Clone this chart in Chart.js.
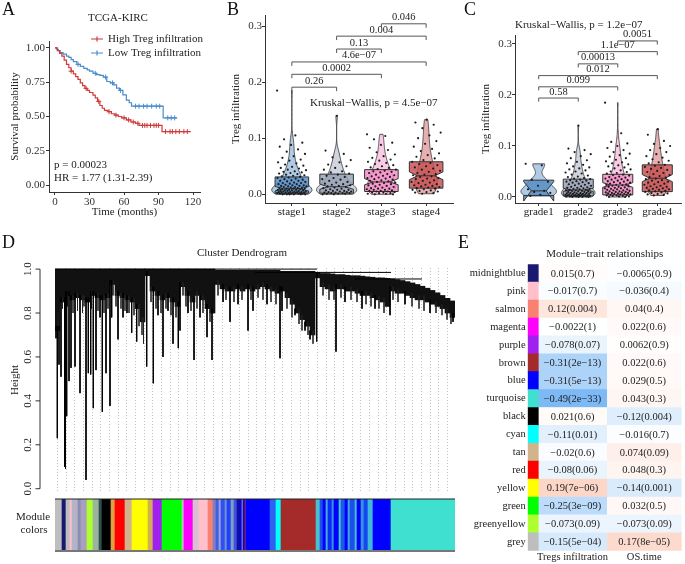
<!DOCTYPE html>
<html>
<head>
<meta charset="utf-8">
<title>Treg infiltration figure</title>
<script src="https://cdn.jsdelivr.net/npm/chart.js@4.4.1/dist/chart.umd.min.js"></script>
<style>
  html, body { margin: 0; padding: 0; background: #fff; }
  body { position: relative; width: 685px; height: 564px; overflow: hidden; font-family: "Liberation Serif", serif; }
  canvas { position: absolute; }
  .tag { position: absolute; font-size: 18px; line-height: 18px; color: #111; }
</style>
</head>
<body>
<canvas id="km" width="230" height="222" style="left:0;top:0"></canvas>
<canvas id="stage" width="232" height="222" style="left:225px;top:0"></canvas>
<canvas id="grade" width="230" height="222" style="left:455px;top:0"></canvas>
<canvas id="dendro" width="460" height="268" style="left:0;top:230px"></canvas>
<canvas id="modbar" width="460" height="65" style="left:0;top:495px"></canvas>
<canvas id="heat" width="230" height="334" style="left:455px;top:230px"></canvas>
<div class="tag" style="left:2px;top:0">A</div>
<div class="tag" style="left:227px;top:0">B</div>
<div class="tag" style="left:464px;top:0">C</div>
<div class="tag" style="left:2px;top:233px">D</div>
<div class="tag" style="left:458px;top:233px">E</div>
<script>
// ---- A: survival curves ----
const highT = [0, 2, 4, 6, 8, 10, 12, 14, 16, 18, 20, 22, 24, 26, 28, 30, 33, 35, 37, 39, 41, 43, 46, 49, 52, 55, 58, 62, 66, 70, 73, 93, 118];
const highS = [1, 0.98, 0.96, 0.94, 0.91, 0.88, 0.855, 0.83, 0.81, 0.79, 0.77, 0.745, 0.725, 0.705, 0.69, 0.675, 0.655, 0.635, 0.61, 0.58, 0.56, 0.545, 0.535, 0.52, 0.51, 0.5, 0.49, 0.475, 0.46, 0.45, 0.435, 0.39, 0.39];
const lowT = [0, 1.5, 3, 4.5, 7, 10, 12, 14, 16, 19, 22, 25, 28, 30, 33, 36, 39, 42, 45, 48, 51, 53.5, 56, 59, 62, 64.5, 66.5, 94, 106];
const lowS = [1, 0.99, 0.98, 0.965, 0.955, 0.94, 0.93, 0.915, 0.9, 0.88, 0.865, 0.85, 0.84, 0.83, 0.815, 0.805, 0.8, 0.787, 0.755, 0.745, 0.73, 0.706, 0.69, 0.657, 0.62, 0.6, 0.575, 0.49, 0.49];
const highCens = [14, 27, 38, 47, 53, 60, 64, 68, 72, 76, 78, 80, 83, 86, 88, 90, 96, 100, 102, 105, 108, 112, 115];
const lowCens = [20, 35, 44, 50, 57, 70, 73, 77, 80, 84, 88, 91, 98, 101, 104];
const kmXTicks = [0, 30, 60, 90, 120];
const kmYTicks = [0, 0.25, 0.5, 0.75, 1];

// ---- B / C: Treg infiltration by stage and grade ----
const stageCats = ['stage1', 'stage2', 'stage3', 'stage4'];
const stagePts = [
  [0.185, 0.105, 0.098, 0.092, 0.088, 0.085, 0.080, 0.076, 0.072, 0.068, 0.065, 0.062, 0.060, 0.057, 0.055, 0.053, 0.051, 0.049, 0.047, 0.046, 0.044, 0.043, 0.041, 0.040, 0.039, 0.038, 0.037, 0.036, 0.035, 0.034, 0.033, 0.032, 0.031, 0.030, 0.029, 0.028, 0.027, 0.026, 0.025, 0.024, 0.024, 0.023, 0.022, 0.021, 0.020, 0.020, 0.019, 0.018, 0.018, 0.017, 0.016, 0.016, 0.015, 0.015, 0.014, 0.014, 0.013, 0.013, 0.012, 0.012, 0.011, 0.011, 0.010, 0.010, 0.010, 0.009, 0.009, 0.008, 0.008, 0.008, 0.007, 0.007, 0.007, 0.006, 0.006, 0.006, 0.005, 0.005, 0.005, 0.004, 0.004, 0.004, 0.004, 0.003, 0.003, 0.003, 0.003, 0.002, 0.002, 0.002, 0.002, 0.001, 0.001, 0.001, 0.001, 0.001, 0.000, 0.000, 0.000, 0.000, 0.000, 0.000],
  [0.140, 0.078, 0.072, 0.066, 0.061, 0.057, 0.053, 0.050, 0.047, 0.044, 0.041, 0.039, 0.037, 0.035, 0.033, 0.031, 0.029, 0.027, 0.026, 0.024, 0.022, 0.021, 0.019, 0.018, 0.017, 0.016, 0.015, 0.014, 0.013, 0.012, 0.011, 0.010, 0.009, 0.008, 0.008, 0.007, 0.006, 0.006, 0.005, 0.005, 0.004, 0.004, 0.003, 0.003, 0.002, 0.002, 0.002, 0.001, 0.001, 0.001, 0.000, 0.000],
  [0.107, 0.104, 0.098, 0.092, 0.088, 0.083, 0.079, 0.075, 0.071, 0.068, 0.065, 0.062, 0.060, 0.058, 0.056, 0.054, 0.052, 0.050, 0.048, 0.047, 0.045, 0.044, 0.042, 0.041, 0.040, 0.039, 0.038, 0.036, 0.035, 0.034, 0.033, 0.032, 0.031, 0.030, 0.029, 0.028, 0.027, 0.026, 0.025, 0.024, 0.023, 0.022, 0.021, 0.020, 0.019, 0.018, 0.017, 0.016, 0.015, 0.014, 0.013, 0.012, 0.011, 0.010, 0.010, 0.009, 0.008, 0.008, 0.007, 0.006, 0.006, 0.005, 0.005, 0.004, 0.003, 0.003, 0.002, 0.002, 0.001, 0.001, 0.000, 0.000],
  [0.133, 0.128, 0.124, 0.118, 0.110, 0.105, 0.100, 0.095, 0.090, 0.085, 0.081, 0.077, 0.073, 0.070, 0.067, 0.064, 0.061, 0.058, 0.056, 0.054, 0.052, 0.050, 0.048, 0.046, 0.044, 0.042, 0.040, 0.038, 0.036, 0.035, 0.034, 0.032, 0.031, 0.029, 0.028, 0.027, 0.025, 0.024, 0.022, 0.021, 0.020, 0.018, 0.017, 0.016, 0.015, 0.014, 0.013, 0.012, 0.011, 0.010, 0.009, 0.008, 0.007, 0.006, 0.005, 0.004, 0.003, 0.002, 0.001]
];
const stageQ1 = [0.002, 0.002, 0.005, 0.011];
const stageMed = [0.010, 0.0135, 0.022, 0.033];
const stageQ3 = [0.031, 0.036, 0.044, 0.058];
const stageNotchLo = [0.006, 0.009, 0.017, 0.026];
const stageNotchHi = [0.014, 0.018, 0.028, 0.040];
const stagePairs = [[1, 2], [1, 3], [1, 4], [2, 3], [2, 4], [3, 4]];
const stagePairY = [0.191, 0.214, 0.236, 0.259, 0.282, 0.304];
const stagePairP = ['0.26', '0.0002', '4.6e-07', '0.13', '0.004', '0.046'];

const gradeCats = ['grade1', 'grade2', 'grade3', 'grade4'];
const gradePts = [
  [0.065, 0.062, 0.034, 0.030, 0.022, 0.015, 0.012, 0.010, 0.008, 0.004, 0.002],
  [0.140, 0.095, 0.092, 0.088, 0.084, 0.080, 0.076, 0.072, 0.069, 0.066, 0.063, 0.060, 0.058, 0.056, 0.054, 0.052, 0.050, 0.048, 0.046, 0.044, 0.042, 0.040, 0.039, 0.037, 0.036, 0.035, 0.034, 0.033, 0.032, 0.031, 0.030, 0.029, 0.028, 0.027, 0.026, 0.025, 0.024, 0.023, 0.022, 0.021, 0.020, 0.019, 0.018, 0.018, 0.017, 0.016, 0.016, 0.015, 0.014, 0.014, 0.013, 0.013, 0.012, 0.012, 0.011, 0.011, 0.010, 0.010, 0.009, 0.009, 0.008, 0.008, 0.008, 0.007, 0.007, 0.006, 0.006, 0.006, 0.005, 0.005, 0.005, 0.004, 0.004, 0.004, 0.003, 0.003, 0.003, 0.003, 0.002, 0.002, 0.002, 0.002, 0.001, 0.001, 0.001, 0.001, 0.000, 0.000, 0.000, 0.000],
  [0.185, 0.125, 0.108, 0.105, 0.100, 0.096, 0.092, 0.088, 0.085, 0.082, 0.079, 0.076, 0.073, 0.070, 0.068, 0.066, 0.064, 0.062, 0.060, 0.058, 0.056, 0.054, 0.052, 0.050, 0.049, 0.047, 0.046, 0.044, 0.043, 0.042, 0.040, 0.039, 0.038, 0.037, 0.036, 0.035, 0.034, 0.033, 0.032, 0.031, 0.030, 0.029, 0.028, 0.027, 0.026, 0.025, 0.024, 0.024, 0.023, 0.022, 0.021, 0.020, 0.020, 0.019, 0.018, 0.017, 0.017, 0.016, 0.015, 0.015, 0.014, 0.013, 0.013, 0.012, 0.011, 0.011, 0.010, 0.010, 0.009, 0.009, 0.008, 0.008, 0.007, 0.007, 0.006, 0.006, 0.005, 0.005, 0.004, 0.004, 0.003, 0.003, 0.002, 0.002, 0.001, 0.001, 0.000, 0.000],
  [0.133, 0.122, 0.110, 0.104, 0.100, 0.096, 0.092, 0.088, 0.084, 0.080, 0.077, 0.074, 0.071, 0.068, 0.066, 0.063, 0.061, 0.059, 0.057, 0.055, 0.053, 0.051, 0.049, 0.047, 0.045, 0.043, 0.041, 0.039, 0.038, 0.036, 0.035, 0.033, 0.032, 0.030, 0.029, 0.028, 0.026, 0.025, 0.024, 0.022, 0.021, 0.020, 0.019, 0.018, 0.017, 0.016, 0.015, 0.014, 0.013, 0.012, 0.011, 0.010, 0.009, 0.008, 0.007, 0.006, 0.005, 0.004, 0.003]
];
const gradeQ1 = [0.003, 0.002, 0.004, 0.0105];
const gradeMed = [0.012, 0.0137, 0.0235, 0.0367];
const gradeQ3 = [0.033, 0.035, 0.0445, 0.063];
const gradeNotchLo = [-0.008, 0.011, 0.019, 0.030];
const gradeNotchHi = [0.030, 0.017, 0.028, 0.044];
const gradePairs = [[1, 2], [1, 3], [1, 4], [2, 3], [2, 4], [3, 4]];
const gradePairY = [0.194, 0.216, 0.238, 0.261, 0.285, 0.306];
const gradePairP = ['0.58', '0.099', '0.012', '0.00013', '1.1e-07', '0.0051'];
const boxTicks = [0, 0.1, 0.2, 0.3];

// ---- D: dendrogram (leaf positions 0..400) ----
const denseLow = [0.72, 0.85, 0.88, 0.86, 0.87, 0.86, 0.85, 0.88, 0.87, 0.86, 0.87, 0.93, 0.88, 0.87, 0.86, 0.85, 0.82, 0.76, 0.97, 0.90,
  0.88, 0.86, 0.87, 0.85, 0.83, 0.92, 0.88, 0.85, 0.88, 0.86, 0.82, 0.80, 0.93, 0.91, 0.90, 0.90, 0.91, 0.90, 0.91, 0.90,
  0.91, 0.92, 0.91, 0.90, 0.89, 0.90, 0.87, 0.84, 0.80, 0.77, 0.74, 0.70, 0.96, 0.92, 0.91, 0.90, 0.91, 0.91, 0.90, 0.90,
  0.89, 0.88, 0.88, 0.87, 0.86, 0.85, 0.83, 0.90, 0.89, 0.89, 0.88, 0.87, 0.86, 0.86, 0.85, 0.84, 0.83, 0.82, 0.80, 0.78];
const denseTop = [1, 1, 1, 1, 1, 1, 1, 1, 1, 1, 1, 1, 1, 1, 1, 1, 1, 1, 1, 1,
  1, 1, 1, 1, 1, 1, 1, 1, 1, 1, 1, 1, 0.995, 0.995, 0.995, 0.995, 0.995, 0.995, 0.995, 0.995,
  0.995, 0.995, 0.995, 0.995, 0.995, 0.99, 0.99, 0.99, 0.99, 0.99, 0.99, 0.99, 0.985, 0.98, 0.98, 0.978, 0.975, 0.975, 0.972, 0.97,
  0.97, 0.968, 0.965, 0.963, 0.96, 0.96, 0.958, 0.955, 0.952, 0.948, 0.943, 0.937, 0.93, 0.922, 0.913, 0.903, 0.892, 0.88, 0.867, 0.855];
const spikeU = [1, 2.3, 4, 6, 9.5, 10.5, 11.7, 14, 16, 20, 25, 31, 33.3, 35.7, 38.3, 41, 45, 47.3, 51, 55, 56.7, 63, 68, 72, 76.7, 81.7, 91.7, 98.3,
  103, 108, 113, 118, 123.3, 125, 133, 139, 145, 152, 157, 168, 175, 183, 193, 198, 212, 225, 227, 240, 250, 255, 261.7, 281, 290, 307, 320, 335, 350, 375, 398];
const spikeLow = [0.685, 0.23, 0.565, 0.51, 0.10, 0.09, 0.33, 0.49, 0.55, 0.556, 0.435, 0.04, 0.526, 0.52, 0.367, 0.54, 0.78, 0.35, 0.526, 0.377, 0.78, 0.68, 0.78, 0.80, 0.71, 0.67, 0.556, 0.48,
  0.79, 0.60, 0.81, 0.66, 0.64, 0.72, 0.80, 0.586, 0.78, 0.69, 0.586, 0.85, 0.76, 0.84, 0.72, 0.81, 0.84, 0.594, 0.81, 0.79, 0.72, 0.68, 0.67, 0.624, 0.85, 0.82, 0.82, 0.79, 0.84, 0.80, 0.76];
const fringeU = [3, 7.5, 12.5, 18, 22.5, 27.5, 29, 36.5, 43, 49, 53, 58, 61, 66, 70, 74, 79, 84, 87, 88.5, 96, 101, 106, 111, 116, 121, 128, 131, 136, 142, 148, 155,
  163, 171, 179, 187, 196, 203, 208, 216, 221, 232, 237, 244, 247, 253, 258, 268, 274, 279, 286, 296, 302, 311, 316, 324, 329, 338, 343, 357, 364, 369, 381, 387, 392, 396];
const fringeLow = [0.80, 0.82, 0.83, 0.80, 0.81, 0.80, 0.83, 0.82, 0.81, 0.80, 0.82, 0.88, 0.83, 0.82, 0.81, 0.80, 0.79, 0.74, 0.70, 0.66, 0.85, 0.82, 0.80, 0.82, 0.79, 0.78, 0.88, 0.83, 0.81, 0.82, 0.80, 0.76,
  0.88, 0.86, 0.85, 0.86, 0.86, 0.87, 0.86, 0.85, 0.84, 0.82, 0.78, 0.75, 0.72, 0.70, 0.66, 0.88, 0.86, 0.86, 0.87, 0.86, 0.85, 0.84, 0.83, 0.82, 0.80, 0.86, 0.85, 0.83, 0.82, 0.81, 0.80, 0.79, 0.77, 0.75];
const mergeLines = [[0, 262, 1.0], [200, 336, 0.985], [300, 367, 0.955]];
const dendroYTicks = [0, 0.2, 0.4, 0.6, 0.8, 1.0];

const modEdges = [0, 7, 11, 15, 17, 23, 26, 32, 38, 44, 47, 56, 60, 70, 77, 93, 98, 107, 127, 129, 138, 144, 153, 158, 161, 164, 166, 170, 172, 176,
  179, 182, 185, 187, 188, 190, 191, 215, 221, 226, 261, 265, 268, 271, 273, 277, 279, 284, 286, 290, 293, 295, 300, 302, 306, 309, 313, 318, 336, 400];
const modColors = ['#BEBEBE', '#191970', '#BEBEBE', '#FFC0CB', '#B4B4C8', '#8C8CB4', '#A9A0C0', '#ADFF2F', '#9CB49C', '#2F4F4F',
  '#000000', '#E0A040', '#FF0000', '#D2B48C', '#FFFF00', '#D2B050', '#A020F0', '#00FF00', '#BEBEBE', '#FF00FF',
  '#D8C0D0', '#FFC0CB', '#FA8072', '#8080C0', '#4060E0', '#A0A0E0', '#3050F0', '#7090D0', '#2040FF', '#80A0C0',
  '#4050E0', '#1010A0', '#0000FF', '#D2A020', '#0000FF', '#A52A2A', '#0000FF', '#3060F0', '#00FFFF', '#A52A2A',
  '#48C0D0', '#1E50E8', '#0000FF', '#40B0D8', '#0A2AF5', '#3A8FE0', '#0000FF', '#45C8D5', '#1E5AE8', '#0000FF',
  '#3FA8DC', '#1C4FEA', '#44C0D4', '#0000FF', '#3A90E0', '#1448F0', '#40B8D8', '#0000FF', '#40E0D0'];

// ---- E: module-trait relationships ----
const modules = ['midnightblue', 'pink', 'salmon', 'magenta', 'purple', 'brown', 'blue', 'turquoise', 'black', 'cyan', 'tan', 'red', 'yellow', 'green', 'greenyellow', 'grey'];
const moduleRgb = ['#191970', '#FFC0CB', '#FA8072', '#FF00FF', '#A020F0', '#A52A2A', '#0000FF', '#40E0D0', '#000000', '#00FFFF', '#D2B48C', '#FF0000', '#FFFF00', '#00FF00', '#ADFF2F', '#BEBEBE'];
const traits = ['Tregs infiltration', 'OS.time'];
const tregCor = [0.015, -0.017, 0.12, -0.0022, -0.078, -0.31, -0.31, -0.49, 0.021, -0.11, -0.02, -0.08, 0.19, -0.25, -0.073, -0.15];
const tregP = ['0.7', '0.7', '0.004', '1', '0.07', '2e-13', '5e-13', '2e-33', '0.6', '0.01', '0.6', '0.06', '7e-06', '3e-09', '0.09', '5e-04'];
const osCor = [-0.0065, -0.036, 0.04, 0.022, 0.0062, 0.022, 0.029, 0.043, -0.12, -0.016, 0.074, 0.048, -0.14, 0.032, -0.073, 0.17];
const osP = ['0.9', '0.4', '0.4', '0.6', '0.9', '0.6', '0.5', '0.3', '0.004', '0.7', '0.09', '0.3', '0.001', '0.5', '0.09', '8e-05'];

Chart.defaults.font.family = "'Liberation Serif', 'Times New Roman', serif";
Chart.defaults.font.size = 11;
Chart.defaults.color = '#222';
Chart.defaults.animation = false;
Chart.defaults.events = [];
Chart.defaults.plugins.legend.display = false;
Chart.defaults.plugins.tooltip.enabled = false;

const FONT = "'Liberation Serif', 'Times New Roman', serif";
const RED = '#CF3A3A', BLUE = '#4B8CCB';
const minus = s => String(s).replace(/-/g, '\u2212');
const stepAt = (T, S, t) => { let s = S[0]; T.forEach((tt, i) => { if (tt <= t) s = S[i]; }); return s; };

// KM annotations and legend
const kmDeco = {
  id: 'kmDeco',
  afterDraw(c) {
    const ctx = c.ctx;
    ctx.save();
    ctx.font = '11px ' + FONT;
    ctx.fillStyle = '#222';
    ctx.textBaseline = 'middle';
    ctx.textAlign = 'center';
    ctx.fillText('TCGA-KIRC', 118, 18);
    ctx.textAlign = 'left';
    ctx.fillText('p = 0.00023', 54, 165);
    ctx.fillText('HR = 1.77 (1.31-2.39)', 54, 178);
    [['High Treg infiltration', RED, 39], ['Low Treg infiltration', BLUE, 53]].forEach(([t, col, y]) => {
      ctx.strokeStyle = col; ctx.lineWidth = 1.2;
      ctx.beginPath();
      ctx.moveTo(91, y); ctx.lineTo(103, y);
      ctx.moveTo(97, y - 2.5); ctx.lineTo(97, y + 2.5);
      ctx.stroke();
      ctx.fillStyle = '#222';
      ctx.fillText(t, 108, y);
    });
    ctx.restore();
  }
};

new Chart(document.getElementById('km'), {
  type: 'line',
  data: {
    datasets: [
      { data: highT.map((t, i) => ({ x: t, y: highS[i] })), borderColor: RED, borderWidth: 1.2, stepped: true, pointRadius: 0 },
      { data: lowT.map((t, i) => ({ x: t, y: lowS[i] })), borderColor: BLUE, borderWidth: 1.2, stepped: true, pointRadius: 0 },
      { type: 'scatter', data: highCens.map(t => ({ x: t, y: stepAt(highT, highS, t) })), pointStyle: 'cross', pointRadius: 2.5, borderColor: RED, borderWidth: 1 },
      { type: 'scatter', data: lowCens.map(t => ({ x: t, y: stepAt(lowT, lowS, t) })), pointStyle: 'cross', pointRadius: 2.5, borderColor: BLUE, borderWidth: 1 }
    ]
  },
  options: {
    responsive: false,
    layout: { padding: { top: 41, right: 30, left: 0, bottom: 0 } },
    scales: {
      x: {
        type: 'linear', min: -5.2, max: 126,
        afterBuildTicks: s => { s.ticks = kmXTicks.map(v => ({ value: v })); },
        afterFit: s => { s.height = 30; },
        grid: { drawOnChartArea: false, tickLength: 3, color: '#333' },
        border: { color: '#333' },
        ticks: { padding: 1, color: '#333' },
        title: { display: true, text: 'Time (months)', padding: { top: 0, bottom: 3.4 } }
      },
      y: {
        min: -0.05, max: 1.05,
        afterBuildTicks: s => { s.ticks = kmYTicks.map(v => ({ value: v })); },
        afterFit: s => { s.width = 49; },
        grid: { drawOnChartArea: false, tickLength: 3, color: '#333' },
        border: { color: '#333' },
        ticks: { padding: 1, color: '#333', callback: v => v.toFixed(2) },
        title: { display: true, text: 'Survival probability', padding: { top: 8.5, bottom: 0 } }
      }
    }
  },
  plugins: [kmDeco]
});

// violin + notched box + comparison brackets
function kde(vals) {
  const s = [...vals].sort((a, b) => a - b), n = s.length;
  const mean = s.reduce((a, b) => a + b, 0) / n;
  const sd = Math.sqrt(s.reduce((a, b) => a + (b - mean) ** 2, 0) / (n - 1));
  const q = p => { const h = (n - 1) * p, lo = Math.floor(h); return s[lo] + (s[Math.min(lo + 1, n - 1)] - s[lo]) * (h - lo); };
  const iqr = q(0.75) - q(0.25);
  const bw = 0.9 * Math.min(sd, iqr > 0 ? iqr / 1.34 : sd) * Math.pow(n, -0.2);
  const out = [];
  for (let k = 0; k <= 80; k++) {
    const v = s[0] + (s[n - 1] - s[0]) * k / 80;
    let d = 0;
    s.forEach(x => { const z = (v - x) / bw; d += Math.exp(-0.5 * z * z); });
    out.push([v, d / (n * bw * Math.sqrt(2 * Math.PI))]);
  }
  return out;
}

const vbox = {
  id: 'vbox',
  beforeDatasetsDraw(c, args, o) {
    const { ctx, scales: { x, y } } = c;
    const X = v => x.getPixelForValue(v), Y = v => y.getPixelForValue(v);
    const dens = o.pts.map(kde);
    const dmax = Math.max(...dens.map(d => Math.max(...d.map(e => e[1]))));
    ctx.save();
    ctx.strokeStyle = '#333';
    ctx.lineWidth = 0.8;
    dens.forEach((d, i) => {
      const cx = i + 1;
      ctx.beginPath();
      d.forEach(([v, f], k) => { const px = X(cx - 0.45 * f / dmax), py = Y(v); k ? ctx.lineTo(px, py) : ctx.moveTo(px, py); });
      for (let k = d.length - 1; k >= 0; k--) ctx.lineTo(X(cx + 0.45 * d[k][1] / dmax), Y(d[k][0]));
      ctx.closePath();
      ctx.fillStyle = 'rgba(' + o.fill[i] + ',0.45)';
      ctx.fill();
      ctx.stroke();
    });
    o.q1.forEach((q1, i) => {
      const cx = i + 1, w = o.boxW / 2, nw = w / 2;
      ctx.beginPath();
      ctx.moveTo(X(cx - w), Y(o.q3[i]));
      ctx.lineTo(X(cx - w), Y(o.nhi[i]));
      ctx.lineTo(X(cx - nw), Y(o.med[i]));
      ctx.lineTo(X(cx - w), Y(o.nlo[i]));
      ctx.lineTo(X(cx - w), Y(q1));
      ctx.lineTo(X(cx + w), Y(q1));
      ctx.lineTo(X(cx + w), Y(o.nlo[i]));
      ctx.lineTo(X(cx + nw), Y(o.med[i]));
      ctx.lineTo(X(cx + w), Y(o.nhi[i]));
      ctx.lineTo(X(cx + w), Y(o.q3[i]));
      ctx.closePath();
      ctx.fillStyle = 'rgba(' + o.fill[i] + ',0.82)';
      ctx.fill();
      ctx.lineWidth = 1;
      ctx.stroke();
      ctx.beginPath();
      ctx.moveTo(X(cx - nw), Y(o.med[i]));
      ctx.lineTo(X(cx + nw), Y(o.med[i]));
      ctx.stroke();
    });
    ctx.restore();
  },
  afterDatasetsDraw(c, args, o) {
    const { ctx, scales: { x, y }, chartArea } = c;
    const X = v => x.getPixelForValue(v), Y = v => y.getPixelForValue(v);
    ctx.save();
    ctx.strokeStyle = '#555';
    ctx.lineWidth = 1;
    ctx.fillStyle = '#222';
    ctx.font = '10.5px ' + FONT;
    ctx.textAlign = 'center';
    ctx.textBaseline = 'bottom';
    o.pairs.forEach(([a, b], k) => {
      const py = Y(o.pairY[k]), pt = Y(o.pairY[k] - 0.007);
      ctx.beginPath();
      ctx.moveTo(X(a), pt); ctx.lineTo(X(a), py); ctx.lineTo(X(b), py); ctx.lineTo(X(b), pt);
      ctx.stroke();
      ctx.fillText(minus(o.pairP[k]), (X(a) + X(b)) / 2, py - 1);
    });
    ctx.font = '11px ' + FONT;
    ctx.textBaseline = 'middle';
    if (o.kwTop) {
      ctx.textAlign = 'left';
      ctx.fillText(minus(o.kw), chartArea.left, 25);
    } else {
      ctx.fillText(minus(o.kw), X(o.kwX), Y(o.kwY));
    }
    ctx.restore();
  }
};

const groupFill = ['84,140,196', '150,160,181', '245,140,198', '200,78,80'];
const jit = (k, g) => ((((k + g * 17) * 0.6180339887) % 1) - 0.5) * 0.66;

function boxChart(id, cats, pts, st, yr, yw, yPad, topPad, rightPad) {
  return new Chart(document.getElementById(id), {
    type: 'scatter',
    data: {
      datasets: pts.map((g, gi) => ({
        data: g.map((v, k) => ({ x: gi + 1 + jit(k, gi), y: v })),
        pointRadius: 1.1, pointBackgroundColor: '#1c1c1c', pointBorderWidth: 0
      }))
    },
    options: {
      responsive: false,
      layout: { padding: { top: topPad, right: rightPad, left: 0, bottom: 0 } },
      scales: {
        x: {
          type: 'linear', min: 0.4, max: 4.6,
          afterBuildTicks: s => { s.ticks = cats.map((_, i) => ({ value: i + 1 })); },
          afterFit: s => { s.height = 19; },
          grid: { drawOnChartArea: false, tickLength: 3, color: '#333' },
          border: { color: '#333' },
          ticks: { padding: 0, color: '#222', callback: v => cats[v - 1] }
        },
        y: {
          min: yr[0], max: yr[1],
          afterBuildTicks: s => { s.ticks = boxTicks.map(v => ({ value: v })); },
          afterFit: s => { s.width = yw; },
          grid: { drawOnChartArea: false, tickLength: 3, color: '#333' },
          border: { color: '#333' },
          ticks: { padding: 0, color: '#333', callback: v => v.toFixed(1) },
          title: { display: true, text: 'Treg infiltration', padding: { top: yPad, bottom: 0 } }
        }
      },
      plugins: { vbox: st }
    },
    plugins: [vbox]
  });
}

boxChart('stage', stageCats, stagePts, {
  pts: stagePts, q1: stageQ1, med: stageMed, q3: stageQ3, nlo: stageNotchLo, nhi: stageNotchHi, boxW: 0.75, fill: groupFill,
  pairs: stagePairs, pairY: stagePairY, pairP: stagePairP, kw: 'Kruskal-Wallis, p = 4.5e-07', kwX: 2.83, kwY: 0.163, kwTop: false
}, [-0.0155, 0.3197], 40, 4.4, 15, 2);

boxChart('grade', gradeCats, gradePts, {
  pts: gradePts, q1: gradeQ1, med: gradeMed, q3: gradeQ3, nlo: gradeNotchLo, nhi: gradeNotchHi, boxW: 0.76, fill: groupFill,
  pairs: gradePairs, pairY: gradePairY, pairP: gradePairP, kw: 'Kruskal-Wallis, p = 1.2e-07', kwTop: true
}, [-0.0118, 0.3176], 60, 25, 35, 0);

// ---- D: dendrogram ----
const dendroDeco = {
  id: 'dendroDeco',
  afterDraw(c) {
    const { ctx, scales: { y } } = c;
    ctx.save();
    ctx.strokeStyle = '#333';
    ctx.lineWidth = 1;
    ctx.beginPath();
    ctx.moveTo(40, y.getPixelForValue(0)); ctx.lineTo(40, y.getPixelForValue(1));
    dendroYTicks.forEach(v => { const py = y.getPixelForValue(v); ctx.moveTo(40, py); ctx.lineTo(35.5, py); });
    ctx.stroke();
    ctx.fillStyle = '#222';
    ctx.font = '11px ' + FONT;
    ctx.textAlign = 'center';
    ctx.textBaseline = 'middle';
    dendroYTicks.forEach(v => {
      ctx.save();
      ctx.translate(28.5, y.getPixelForValue(v));
      ctx.rotate(-Math.PI / 2);
      ctx.fillText(v.toFixed(1), 0, 0);
      ctx.restore();
    });
    ctx.fillText('Cluster Dendrogram', 242, 23);
    ctx.restore();
  }
};

function hangLines(us, lows) {
  const out = [];
  us.forEach((u, i) => {
    const col = Math.min(denseTop.length - 1, Math.floor(u / 5));
    out.push({ x: u, y: denseLow[col] + 0.02 }, { x: u, y: lows[i] }, { x: u, y: null });
  });
  return out;
}
const mergeData = [];
mergeLines.forEach(([a, b, h]) => { mergeData.push({ x: a, y: h }, { x: b, y: h }, { x: b, y: null }); });

new Chart(document.getElementById('dendro'), {
  type: 'bar',
  data: {
    datasets: [
      { type: 'line', data: hangLines(spikeU, spikeLow), borderColor: '#000', borderWidth: 1, pointRadius: 0, spanGaps: false },
      { type: 'line', data: hangLines(fringeU, fringeLow), borderColor: '#222', borderWidth: 0.8, pointRadius: 0, spanGaps: false },
      { type: 'line', data: mergeData, borderColor: '#000', borderWidth: 1, pointRadius: 0, spanGaps: false },
      {
        data: denseLow.map((lo, i) => ({ x: i * 5 + 2.5, y: [lo, denseTop[i]] })),
        backgroundColor: '#111', barPercentage: 1, categoryPercentage: 1, borderWidth: 0
      }
    ]
  },
  options: {
    responsive: false,
    layout: { padding: { top: 38, right: 5, left: 0, bottom: 6 } },
    scales: {
      x: {
        type: 'linear', min: 0, max: 400, offset: false,
        afterBuildTicks: s => { const t = []; for (let u = 6.7; u < 400; u += 8.67) t.push({ value: u }); s.ticks = t; },
        afterFit: s => { s.height = 0; },
        grid: { drawTicks: false, color: '#b0b0b0', lineWidth: 0.8 },
        border: { display: false, dash: [1, 2] },
        ticks: { display: false }
      },
      y: {
        min: -0.015, max: 1.005,
        afterFit: s => { s.width = 55; },
        grid: { display: false },
        border: { display: false },
        ticks: { display: false },
        title: { display: true, text: 'Height', padding: { top: 8.4, bottom: 0 } }
      }
    }
  },
  plugins: [dendroDeco]
});

const modDeco = {
  id: 'modDeco',
  afterDraw(c) {
    const { ctx, chartArea: a } = c;
    ctx.save();
    ctx.strokeStyle = '#222'; ctx.lineWidth = 1.2;
    ctx.beginPath(); ctx.moveTo(a.left, a.top); ctx.lineTo(a.right, a.top); ctx.stroke();
    ctx.strokeStyle = '#777'; ctx.lineWidth = 2;
    ctx.beginPath(); ctx.moveTo(a.left, a.bottom); ctx.lineTo(a.right, a.bottom); ctx.stroke();
    ctx.fillStyle = '#222';
    ctx.font = '11px ' + FONT;
    ctx.textAlign = 'center'; ctx.textBaseline = 'middle';
    ctx.fillText('Module', 33, 22);
    ctx.fillText('colors', 34, 35.5);
    ctx.restore();
  }
};

new Chart(document.getElementById('modbar'), {
  type: 'bar',
  data: {
    labels: ['m'],
    datasets: [{
      data: modColors.map((_, i) => ({ x: [modEdges[i], modEdges[i + 1]], y: 'm' })),
      backgroundColor: modColors, barPercentage: 1, categoryPercentage: 1, borderWidth: 0, grouped: false
    }]
  },
  options: {
    responsive: false,
    indexAxis: 'y',
    layout: { padding: { top: 4, right: 5, left: 55, bottom: 9 } },
    scales: {
      x: { type: 'linear', min: 0, max: 400, display: false },
      y: { display: false }
    }
  },
  plugins: [modDeco]
});

// ---- E: heatmap ----
function heat(r) {
  const t = Math.abs(r);
  if (r < 0) return 'rgb(' + Math.round(255 - 265 * t) + ',' + Math.round(255 - 143 * t) + ',' + Math.round(255 - 20 * t) + ')';
  return 'rgb(' + Math.round(255 - 15 * t) + ',' + Math.round(255 - 210 * t) + ',' + Math.round(255 - 290 * t) + ')';
}
const colEdges = [0, 10.6, 79, 154];

const heatText = {
  id: 'heatText',
  afterDatasetsDraw(c) {
    const { ctx, chartArea: a } = c;
    ctx.save();
    ctx.fillStyle = '#222';
    ctx.font = '10.5px ' + FONT;
    ctx.textAlign = 'center'; ctx.textBaseline = 'middle';
    [[1, tregCor, tregP], [2, osCor, osP]].forEach(([di, cor, p]) => {
      c.getDatasetMeta(di).data.forEach((el, i) => {
        ctx.fillText(minus(cor[i]) + '(' + minus(p[i]) + ')', (el.x + el.base) / 2, el.y + 0.5);
      });
    });
    ctx.font = '11px ' + FONT;
    ctx.fillText('Module\u2212trait relationships', (a.left + a.right) / 2, 24);
    ctx.restore();
  }
};

new Chart(document.getElementById('heat'), {
  type: 'bar',
  data: {
    labels: modules,
    datasets: [
      { data: modules.map(() => [colEdges[0], colEdges[1]]), backgroundColor: moduleRgb },
      { data: modules.map(() => [colEdges[1], colEdges[2]]), backgroundColor: tregCor.map(heat) },
      { data: modules.map(() => [colEdges[2], colEdges[3]]), backgroundColor: osCor.map(heat) }
    ].map(d => Object.assign(d, { barPercentage: 1, categoryPercentage: 1, borderWidth: 0, grouped: false }))
  },
  options: {
    responsive: false,
    indexAxis: 'y',
    layout: { padding: { top: 34.3, right: 3.3, left: 0, bottom: 0 } },
    scales: {
      x: {
        type: 'linear', min: 0, max: 154,
        afterBuildTicks: s => { s.ticks = traits.map((_, i) => ({ value: (colEdges[i + 1] + colEdges[i + 2]) / 2 })); },
        afterFit: s => { s.height = 13.3; },
        grid: { display: false, drawTicks: false },
        border: { display: false },
        ticks: { padding: 0.5, color: '#222', font: { size: 10.5 }, callback: (v, i) => traits[i] }
      },
      y: {
        afterFit: s => { s.width = 72.7; },
        grid: { display: false, drawTicks: false },
        border: { display: false },
        ticks: { padding: 2, color: '#222', autoSkip: false, font: { size: 10.5 } }
      }
    }
  },
  plugins: [heatText]
});
</script>
</body>
</html>
